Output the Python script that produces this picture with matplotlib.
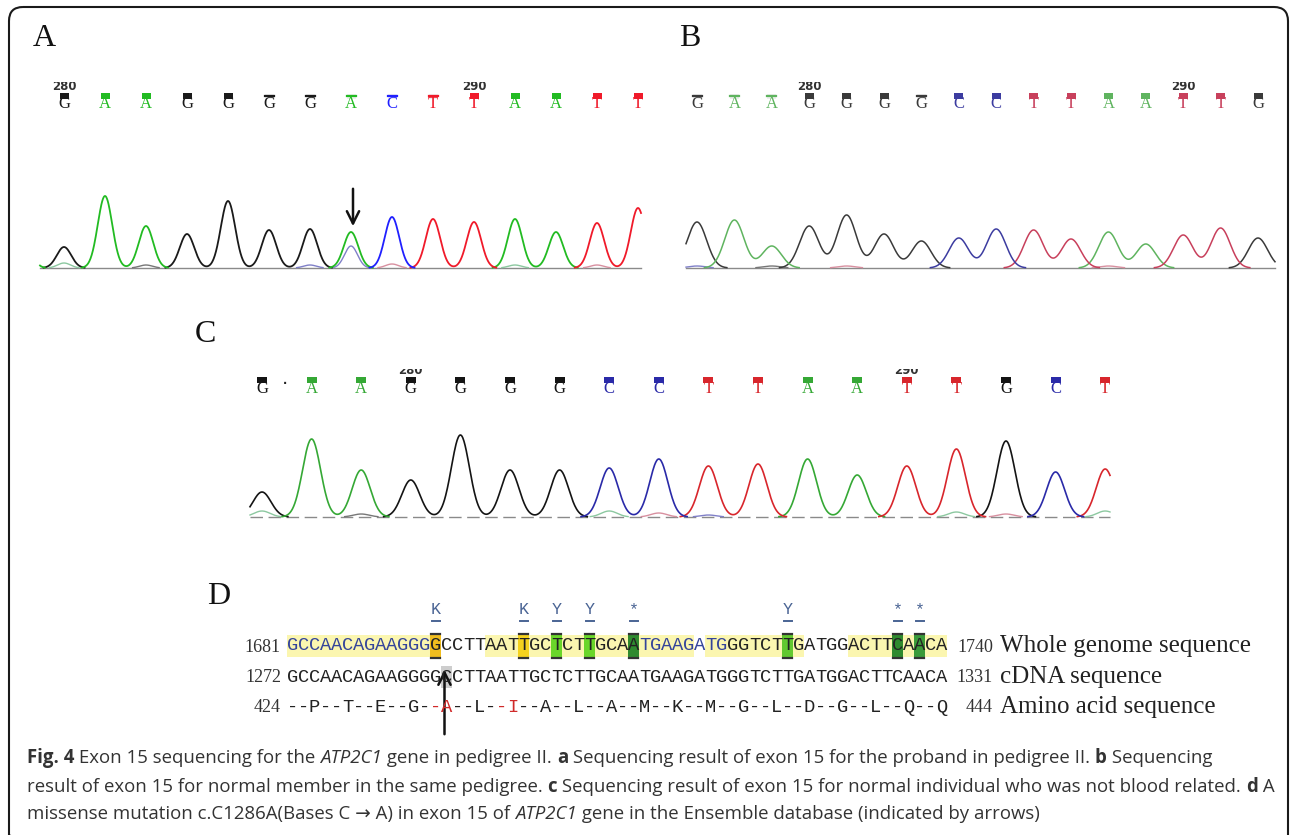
import numpy as np
import matplotlib
matplotlib.use('Agg')
import matplotlib.pyplot as plt
from matplotlib.patches import Rectangle, FancyBboxPatch

W, H = 1292, 835

# ---------------- data ----------------
# panel A: proband
bases_a = list("GAAGGGGACTTAATT")
peaks_a = [21, 72, 42, 34, 67, 38, 39, 36, 51, 49, 46, 49, 36, 45, 60]
minor_a = [(0, 'A', 5), (2, 'G', 3), (6, 'C', 3), (7, 'C', 22), (8, 'T', 4), (11, 'A', 3), (13, 'T', 3)]
lead_a = ('A', 40)
ticks_a = {0: '280', 10: '290'}
weak_a = [5, 6, 7, 8, 9]

# panel B: normal member, same pedigree
bases_b = list("GAAGGGGCCTTAATTG")
peaks_b = [46, 48, 22, 42, 53, 34, 27, 30, 39, 38, 29, 36, 24, 33, 40, 30]
minor_b = [(0, 'C', 2), (2, 'G', 2), (4, 'T', 2), (11, 'T', 2)]
lead_b = ('G', 20)
ticks_b = {3: '280', 13: '290'}
weak_b = [0, 1, 2, 6]

# panel C: unrelated normal individual
bases_c = list("GAAGGGGCCTTAATTGCT")
peaks_c = [25, 78, 47, 37, 82, 47, 47, 49, 58, 51, 53, 58, 42, 51, 68, 76, 45, 48]
minor_c = [(0, 'A', 6), (2, 'G', 3), (7, 'A', 6), (8, 'T', 4), (9, 'C', 2), (14, 'A', 5), (15, 'T', 3), (17, 'A', 6)]
ticks_c = {3: '280', 13: '290'}

# panel D: alignment
genome = "GCCAACAGAAGGGGCCTTAATTGCTCTTGCAATGAAGATGGGTCTTGATGGACTTCAACA"
cdna = "GCCAACAGAAGGGGCCTTAATTGCTCTTGCAATGAAGATGGGTCTTGATGGACTTCAACA"
amino = "--P--T--E--G--A--L--I--A--L--A--M--K--M--G--L--D--G--L--Q--Q"
marks = [(14, 'K'), (22, 'K'), (25, 'Y'), (28, 'Y'), (32, '*'), (46, 'Y'), (56, '*'), (58, '*')]
mark_colors = ['#f0bd1e', '#f5d21e', '#6ad62a', '#6ad62a', '#2f8a2f', '#62c830', '#2f8a2f', '#3a9a3a']
yellow_runs = [(1, 14), (19, 37), (39, 47), (52, 60)]
blue_runs = [(1, 13), (33, 40)]
mutation_pos = 15
red_amino = [14, 15, 20, 21]
row_start = ['1681', '1272', '424']
row_end = ['1740', '1331', '444']
row_names = ['Whole genome sequence', 'cDNA sequence', 'Amino acid sequence']

caption = [
    [("Fig. 4", 'b'), (" Exon 15 sequencing for the ", 'n'), ("ATP2C1", 'i'),
     (" gene in pedigree II. ", 'n'), ("a", 'b'),
     (" Sequencing result of exon 15 for the proband in pedigree II. ", 'n'),
     ("b", 'b'), (" Sequencing", 'n')],
    [("result of exon 15 for normal member in the same pedigree. ", 'n'), ("c", 'b'),
     (" Sequencing result of exon 15 for normal individual who was not blood related. ", 'n'),
     ("d", 'b'), (" A", 'n')],
    [("missense mutation c.C1286A(Bases C \u2192 A) in exon 15 of ", 'n'), ("ATP2C1", 'i'),
     (" gene in the Ensemble database (indicated by arrows)", 'n')],
]

# ---------------- figure ----------------
fig = plt.figure(figsize=(W / 100, H / 100), dpi=100)
ax = fig.add_axes([0, 0, 1, 1])
ax.set_xlim(0, W)
ax.set_ylim(H, 0)
ax.axis('off')

ax.add_patch(FancyBboxPatch((9, 7), 1279, 842, boxstyle='round,pad=0,rounding_size=14',
                            fill=False, lw=1.5, ec='#1a1a1a', zorder=1))

col_a = {'G': '#1a1a1a', 'A': '#22bb22', 'C': '#2020ff', 'T': '#f01a2a'}
col_b = {'G': '#3a3a3a', 'A': '#5fb45f', 'C': '#3c3ca0', 'T': '#c8405c'}
col_c = {'G': '#141414', 'A': '#35a835', 'C': '#2a2aa8', 'T': '#d8262c'}
minor_col = {'G': '#777777', 'A': '#8cc8a0', 'C': '#8080c8', 'T': '#d890a0'}


def base_calls(x0, dx, bases, cols, y_bar, y_let, ticks, weak=(), bw=9, tick_cover=6):
    for i, b in enumerate(bases):
        x = x0 + i * dx
        if i in weak:
            ax.add_patch(Rectangle((x - bw / 2, y_bar - 2.5), bw, 5, fc='#eeeeee',
                                   ec='none', zorder=2))
            ax.plot([x - bw / 2, x + bw / 2], [y_bar, y_bar], color=cols[b], lw=1.6, zorder=3)
        else:
            ax.add_patch(Rectangle((x - bw / 2, y_bar - 3), bw, 6, color=cols[b], lw=0, zorder=2))
        ax.text(x, y_let, b, ha='center', va='center', fontsize=12,
                family='Liberation Serif', color=cols[b], zorder=3)
    for i, lab in ticks.items():
        x = x0 + i * dx
        ax.text(x, y_bar - 9, lab, ha='center', va='center', fontsize=8.5,
                family='DejaVu Sans', fontweight='bold', color='#333333', zorder=3)
        ax.add_patch(Rectangle((x - 14, y_bar - 20), 28, tick_cover, color='white',
                               lw=0, zorder=4))


def trace(x0, dx, bases, peaks, sigma, y0, xa, xb, cols, minor, lead=None, lw=1.2,
          base_style='-', tail=None):
    xs = np.linspace(xa, xb, 1500)
    ch = {k: np.zeros_like(xs) for k in 'GATC'}
    for i, (b, h) in enumerate(zip(bases, peaks)):
        ch[b] += h * np.exp(-(xs - (x0 + i * dx)) ** 2 / (2 * sigma ** 2))
    if lead is not None:
        ch[lead[0]] += lead[1] * np.exp(-(xs - (x0 - dx)) ** 2 / (2 * sigma ** 2))
    if tail is not None:
        ch[tail[0]] += tail[1] * np.exp(-(xs - (x0 + len(bases) * dx)) ** 2 / (2 * sigma ** 2))
    small = {k: np.zeros_like(xs) for k in 'GATC'}
    for i, b, h in minor:
        small[b] += h * np.exp(-(xs - (x0 + i * dx)) ** 2 / (2 * (sigma * 0.9) ** 2))
    ax.plot([xa, xb], [y0, y0], color='#8a8a8a', lw=1.0, ls=base_style, zorder=2)
    for k in 'GATC':
        y = np.where(small[k] > 0.35, y0 - small[k], np.nan)
        ax.plot(xs, y, color=minor_col[k], lw=1.0, zorder=3)
    for k in 'GATC':
        y = np.where(ch[k] > 0.35, y0 - ch[k], np.nan)
        ax.plot(xs, y, color=cols[k], lw=lw, zorder=4)


def panel_label(x, y, s):
    ax.text(x, y, s, ha='center', va='center', fontsize=23, family='Liberation Serif',
            color='#111111')


# panel A
panel_label(44, 39, 'A')
xa0, dxa = 64, 41.0
base_calls(xa0, dxa, bases_a, col_a, 96, 104, ticks_a, weak_a)
trace(xa0, dxa, bases_a, peaks_a, 7.2, 268, 40, 641, col_a, minor_a, lead_a, lw=1.3,
      tail=('T', 30))
ax.annotate('', xy=(xa0 + 7 * dxa + 2, 229), xytext=(xa0 + 7 * dxa + 2, 186),
            arrowprops=dict(arrowstyle='->', lw=1.8, color='#111111', mutation_scale=22))

# panel B
panel_label(690, 39, 'B')
xb0, dxb = 697, 37.4
base_calls(xb0, dxb, bases_b, col_b, 96, 104, ticks_b, weak_b)
trace(xb0, dxb, bases_b, peaks_b, 9.6, 268, 686, 1275, col_b, minor_b, lead_b, lw=1.1)

# panel C
panel_label(205, 335, 'C')
xc0, dxc = 262, 49.6
base_calls(xc0, dxc, bases_c, col_c, 380, 389, ticks_c, bw=10, tick_cover=9)
ax.text(xc0 + 0.47 * dxc, 384, '\u00b7', ha='center', va='center', fontsize=14, color='#222')
trace(xc0, dxc, bases_c, peaks_c, 9.0, 517, 250, 1110, col_c, minor_c, ('G', 6), lw=1.2,
      base_style=(0, (9, 4)), tail=('G', 10))

# panel D
panel_label(219, 597, 'D')
sx0, cw = 287, 11.0
y_mark, y1, y2, y3 = 610, 646, 677, 707
mono = 'Liberation Mono'


def cx(p):
    return sx0 + (p - 0.5) * cw


for a, b in yellow_runs:
    ax.add_patch(Rectangle((cx(a) - cw / 2, y1 - 11), (b - a + 1) * cw, 22,
                           color='#fbf6b0', lw=0, zorder=1))
for (p, m), c in zip(marks, mark_colors):
    ax.add_patch(Rectangle((cx(p) - cw / 2, y1 - 11), cw, 22, color=c, lw=0, zorder=2))
    ax.plot([cx(p) - 4.5, cx(p) + 4.5], [y1 - 12, y1 - 12], color='#333', lw=1.6, zorder=3)
    ax.plot([cx(p) - 4.5, cx(p) + 4.5], [y1 + 12, y1 + 12], color='#333', lw=1.6, zorder=3)
    ax.plot([cx(p) - 4, cx(p) + 4], [y_mark + 11, y_mark + 11], color='#4a6494', lw=1.4)
    ax.text(cx(p), y_mark, m, ha='center', va='center', family=mono, fontsize=12,
            color='#4a6494')
ax.add_patch(Rectangle((cx(mutation_pos) - cw / 2, y2 - 11), cw, 22, color='#cdcdcd',
                       lw=0, zorder=1))

for i, s in enumerate(genome):
    p = i + 1
    c = '#222222'
    for a, b in blue_runs:
        if a <= p <= b:
            c = '#34449a'
    ax.text(cx(p), y1, s, ha='center', va='center', family=mono, fontsize=13.5,
            color=c, zorder=5)
for i, s in enumerate(cdna):
    ax.text(cx(i + 1), y2, s, ha='center', va='center', family=mono, fontsize=13.5,
            color='#222222', zorder=5)
for i, s in enumerate(amino):
    c = '#d02a2a' if (i + 1) in red_amino else '#222222'
    ax.text(cx(i + 1), y3, s, ha='center', va='center', family=mono, fontsize=13.5,
            color=c, zorder=5)

for y, a, b, name in zip([y1, y2, y3], row_start, row_end, row_names):
    ax.text(281, y + 1, a, ha='right', va='center', family='Liberation Serif',
            fontsize=13, color='#333')
    ax.text(993, y + 1, b, ha='right', va='center', family='Liberation Serif',
            fontsize=13, color='#333')
    ax.text(1000, y, name, ha='left', va='center', family='Liberation Serif',
            fontsize=18, color='#222')

ax.annotate('', xy=(cx(mutation_pos) - 2, 667), xytext=(cx(mutation_pos) - 2, 737),
            arrowprops=dict(arrowstyle='->', lw=1.8, color='#111111', mutation_scale=22))

# caption
renderer = fig.canvas.get_renderer()
cap_fam = ['Open Sans', 'DejaVu Sans']


def style(kind, size):
    kw = dict(fontsize=size, family=cap_fam, color='#333333', va='baseline', ha='left')
    if kind == 'b':
        kw['fontweight'] = 'bold'
    if kind == 'i':
        kw['fontstyle'] = 'italic'
    return kw


def advance(s, kw):
    t1 = ax.text(0, 0, '|' + s + '|', **kw)
    t2 = ax.text(0, 0, '||', **kw)
    w = t1.get_window_extent(renderer).width - t2.get_window_extent(renderer).width
    t1.remove()
    t2.remove()
    return w


def line_width(pieces, size):
    return sum(advance(s, style(k, size)) for s, k in pieces)


size = 11.0
size = size * 1249 / line_width(caption[1], size)
for pieces, yb in zip(caption, [763, 792, 819]):
    x = 27
    for s, k in pieces:
        kw = style(k, size)
        ax.text(x, yb, s, **kw)
        x += advance(s, kw)

fig.savefig('out.png', dpi=100)
